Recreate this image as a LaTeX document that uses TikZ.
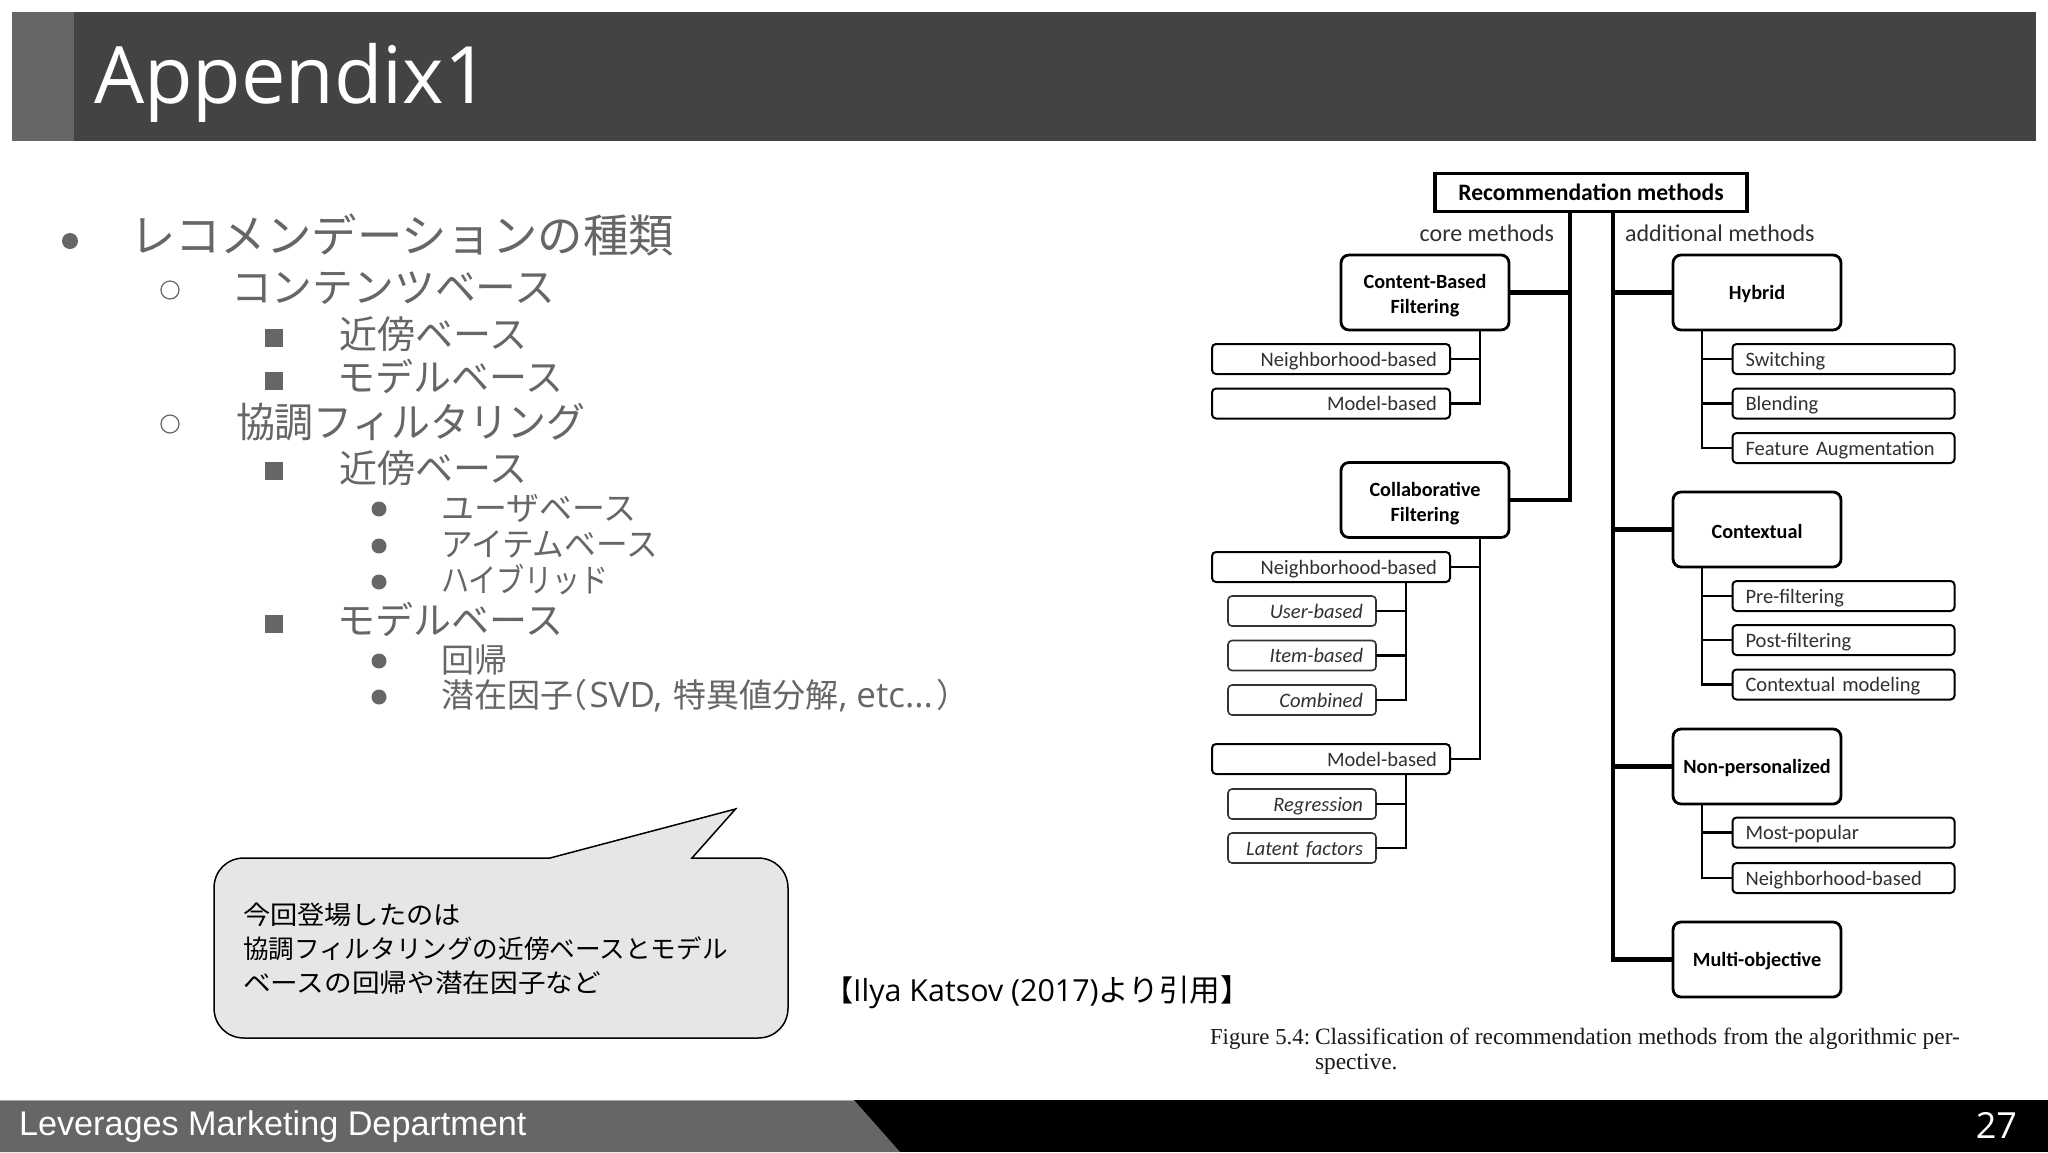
\documentclass[tikz,border=0pt]{standalone}
\usepackage{fontspec}
\setmainfont{Open Sans}
\newfontfamily\cjk{Noto Sans CJK JP}
\newfontfamily\diaf{Carlito}
\newfontfamily\capf{Liberation Serif}
\newfontfamily\footf{Liberation Sans}
\definecolor{hdr}{HTML}{434343}
\definecolor{gr}{HTML}{666666}
\definecolor{bub}{HTML}{E6E6E6}
\definecolor{dtx}{HTML}{303030}
\tikzset{
 every node/.style={inner sep=0pt,outer sep=0pt},
 mainbox/.style={draw=black,line width=1.4pt,rounded corners=4pt,fill=white,minimum width=84pt,minimum height=37.5pt,align=center,font=\diaf\bfseries\fontsize{10.1}{12.5}\selectfont,text=black},
 main/.style={mainbox,execute at begin node=\rule{0pt}{9pt}},
 lsub/.style={draw=black,line width=1pt,rounded corners=2pt,fill=white,minimum height=15pt,text height=8pt,text depth=1pt,font=\diaf\fontsize{10.25}{12}\selectfont,text=dtx},
 lefta/.style={lsub,text width=106pt,inner xsep=6.5pt,align=right},
 leftb/.style={lsub,draw=black!80,line width=0.8pt,text width=61pt,inner xsep=6.5pt,align=right,font=\diaf\itshape\fontsize{10.25}{12}\selectfont},
 righta/.style={lsub,text width=98pt,inner xsep=6.5pt,align=left},
 thickl/.style={line width=2.1pt,black},
 midl/.style={line width=1.1pt,black},
 lab/.style={anchor=west,text=gr,font=\cjk},
 l0/.style={lab,font=\cjk\fontsize{22.7}{26}\selectfont},
 l1/.style={lab,font=\cjk\fontsize{20.4}{24}\selectfont},
 l2/.style={lab,font=\cjk\fontsize{19}{23}\selectfont},
 l3/.style={lab,font=\cjk\fontsize{16.5}{20}\selectfont},
 bdot/.style={circle,fill=gr,minimum size=8pt},
 bdots/.style={circle,fill=gr,minimum size=7.5pt},
 bring/.style={circle,draw=gr,line width=0.6pt,fill=white,minimum size=9pt},
 bsq/.style={rectangle,fill=gr,minimum size=9pt},
}
\newcommand{\latn}[1]{{\rmfamily\fontsize{17.5}{20}\selectfont #1}}
\begin{document}
\begin{tikzpicture}[x=0.5pt,y=-0.5pt]
\useasboundingbox (0,0) rectangle (2048,1152);
\fill[white] (0,0) rectangle (2048,1152);
% header
\fill[hdr] (12,12) rectangle (2036,141);
\fill[gr] (12,12) rectangle (74,141);
\node[anchor=west,text=white,font=\fontsize{39.6}{46}\selectfont] (title) at (94,83) {Appendix1};
% footer
\fill[black] (0,1100) rectangle (2048,1152);
\fill[gr] (0,1100) -- (854,1100) -- (900,1152) -- (0,1152) -- cycle;
\draw[line width=0.5pt,black!35] (0,1100.5) -- (854,1100.5);
\node[anchor=west,text=white,font=\footf\fontsize{17.1}{20}\selectfont] (ftext) at (19,1127) {Leverages Marketing Department};
\node[anchor=east,text=white,font=\fontsize{18}{22}\selectfont] (pnum) at (2017,1125) {27};
% list
\node[bdot] (b0) at (70,241) {};
\node[l0] (t0) at (130,235) {レコメンデーションの種類};
\node[bring] (b1) at (170,290) {};
\node[l1] (t1) at (231,288) {コンテンツベース};
\node[bsq] (b2) at (274,338) {};
\node[l2] (t2) at (339,334) {近傍ベース};
\node[bsq] (b3) at (274,381) {};
\node[l2] (t3) at (337,376) {モデルベース};
\node[bring] (b4) at (170,424) {};
\node[l1] (t4) at (236,422) {\scalebox{0.955}[1]{協調フィルタリング}};
\node[bsq] (b5) at (274,471) {};
\node[l2] (t5) at (339,468) {近傍ベース};
\node[bdots] (b6) at (379,509) {};
\node[l3] (t6) at (441,508) {ユーザベース};
\node[bdots] (b7) at (379,546) {};
\node[l3] (t7) at (441,544) {\scalebox{0.96}[1]{アイテムベース}};
\node[bdots] (b8) at (379,582) {};
\node[l3] (t8) at (441,580) {\scalebox{0.85}[1]{ハイブリッド}};
\node[bsq] (b9) at (274,624) {};
\node[l2] (t9) at (337,619) {モデルベース};
\node[bdots] (b10) at (379,661) {};
\node[l3] (t10) at (441,660) {回帰};
\node[bdots] (b11) at (379,697) {};
\node[l3] (t11) at (441,696) {潜在因子\hspace{-0.55em}（\hspace{0.05em}\latn{SVD,}\hspace{0.35em}特異値分解\latn{, etc...}\hspace{0.1em}）};
% callout
\draw[fill=bub,draw=black,line width=0.75pt] (244,858) -- (550,858) -- (735.5,809) -- (692,858) -- (758,858)
  .. controls (775,858) and (788,871) .. (788,888) -- (788,1008)
  .. controls (788,1025) and (775,1038) .. (758,1038) -- (244,1038)
  .. controls (227,1038) and (214,1025) .. (214,1008) -- (214,888)
  .. controls (214,871) and (227,858) .. (244,858) -- cycle;
\node[anchor=north west,align=left,text=black,font=\cjk\fontsize{12.8}{17}\selectfont] (say) at (243,903) {\scalebox{1.064}[1]{今回登場したのは}\\協調フィルタリングの近傍ベースとモデル\\\scalebox{1.08}[1]{ベースの回帰や潜在因子など}};
\node[anchor=west,text=black,font=\fontsize{15.2}{18}\selectfont] (cite) at (824,992) {{\cjk\fontsize{14.6}{18}\selectfont 【}Ilya Katsov (2017){\cjk\fontsize{15.3}{18}\selectfont より引用】}};
% tree nodes
\node[draw=black,line width=1.8pt,fill=white,minimum width=156pt,minimum height=19pt,font=\diaf\bfseries\fontsize{11.8}{14}\selectfont] (root) at (1591,192.5) {Recommendation methods};
\node[anchor=east,text=dtx,font=\diaf\fontsize{12}{14}\selectfont] (core) at (1554,233) {core methods};
\node[anchor=west,text=dtx,font=\diaf\fontsize{12}{14}\selectfont] (addl) at (1625,233) {additional methods};
\node[mainbox] (cb) at (1425,292.5) {\rule{0pt}{10.5pt}Content-Based\\Filtering};
\node[lefta] (nb1) at (1331,359) {Neighborhood-based};
\node[lefta] (mb1) at (1331,403.5) {Model-based};
\node[mainbox] (cf) at (1425,500) {\rule{0pt}{10.5pt}Collaborative\\Filtering};
\node[lefta] (nb2) at (1331,567) {Neighborhood-based};
\node[leftb] (ub) at (1302,611) {User-based};
\node[leftb] (ib) at (1302,655.5) {Item-based};
\node[leftb] (co) at (1302,700) {Combined};
\node[lefta] (mb2) at (1331,759) {Model-based};
\node[leftb] (rg) at (1302,804) {Regression};
\node[leftb] (lf) at (1302,848) {Latent factors};
\node[main] (hy) at (1757,292.5) {Hybrid};
\node[righta] (sw) at (1843.5,359) {Switching};
\node[righta] (bl) at (1843.5,403.5) {Blending};
\node[righta] (fa) at (1843.5,448) {Feature Augmentation};
\node[main] (cx) at (1757,529.5) {Contextual};
\node[righta] (pr) at (1843.5,596) {Pre-filtering};
\node[righta] (po) at (1843.5,640) {Post-filtering};
\node[righta] (cm) at (1843.5,684.5) {Contextual modeling};
\node[main] (np) at (1757,766.5) {Non-personalized};
\node[righta] (mp) at (1843.5,832.5) {Most-popular};
\node[righta] (nb3) at (1843.5,878) {Neighborhood-based};
\node[main] (mo) at (1757,959.5) {Multi-objective};
% connector origins
\coordinate (lsp) at (1570,212);
\coordinate (rsp) at (1613,212);
\coordinate (cbs) at (1480,330);
\coordinate (cfs) at (1480,537);
\coordinate (nbs) at (1406,582);
\coordinate (mbs) at (1406,774);
\coordinate (hys) at (1702,330);
\coordinate (cxs) at (1702,567);
\coordinate (nps) at (1702,804);
% connectors
\draw[thickl] (lsp) |- (cb.east);
\draw[thickl] (lsp) |- (cf.east);
\draw[thickl] (rsp) |- (hy.west);
\draw[thickl] (rsp) |- (cx.west);
\draw[thickl] (rsp) |- (np.west);
\draw[thickl] (rsp) |- (mo.west);
\draw[midl] (cbs) |- (nb1.east);
\draw[midl] (cbs) |- (mb1.east);
\draw[midl] (cfs) |- (nb2.east);
\draw[midl] (cfs) |- (mb2.east);
\draw[midl] (nbs) |- (ub.east);
\draw[midl] (nbs) |- (ib.east);
\draw[midl] (nbs) |- (co.east);
\draw[midl] (mbs) |- (rg.east);
\draw[midl] (mbs) |- (lf.east);
\draw[midl] (hys) |- (sw.west);
\draw[midl] (hys) |- (bl.west);
\draw[midl] (hys) |- (fa.west);
\draw[midl] (cxs) |- (pr.west);
\draw[midl] (cxs) |- (po.west);
\draw[midl] (cxs) |- (cm.west);
\draw[midl] (nps) |- (mp.west);
\draw[midl] (nps) |- (nb3.west);
% caption
\node[anchor=west,text=black!90,font=\capf\fontsize{11.4}{14}\selectfont] (fig) at (1210,1039) {Figure 5.4:};
\node[anchor=north west,align=left,text=black!90,font=\capf\fontsize{11.7}{12.5}\selectfont] (captext) at (1315,1028) {Classification of recommendation methods from the algorithmic per-\\spective.};
\end{tikzpicture}
\end{document}
